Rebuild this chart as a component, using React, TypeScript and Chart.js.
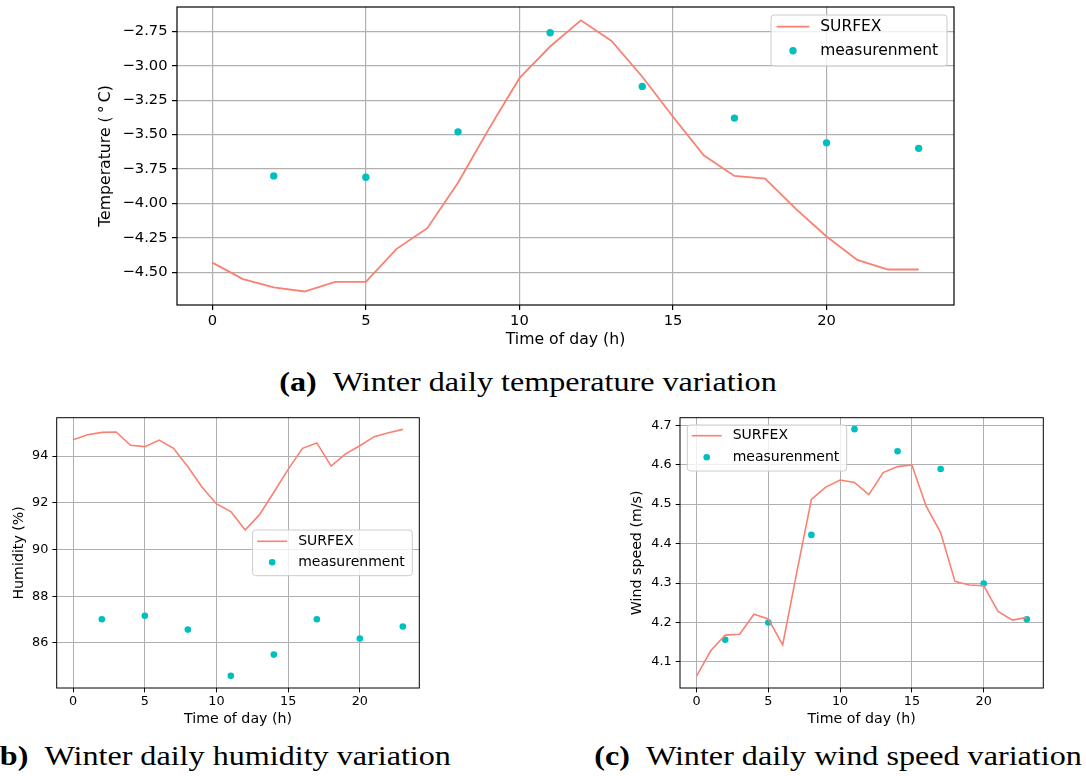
import React, { useEffect, useRef } from 'react';
import { Chart, registerables } from 'chart.js';

Chart.register(...registerables);

// ---------------- data ----------------
const hours = [0, 1, 2, 3, 4, 5, 6, 7, 8, 9, 10, 11, 12, 13, 14, 15, 16, 17, 18, 19, 20, 21, 22, 23];
const measHours = [2, 5, 8, 11, 14, 17, 20, 23];

const tempSurfex = [-4.43, -4.55, -4.61, -4.64, -4.57, -4.57, -4.33, -4.18, -3.85, -3.46, -3.09, -2.86, -2.67, -2.82, -3.08, -3.37, -3.65, -3.80, -3.82, -4.04, -4.24, -4.41, -4.48, -4.48];
const tempMeas = [-3.80, -3.81, -3.48, -2.76, -3.15, -3.38, -3.56, -3.60];

const humSurfex = [94.70, 94.91, 95.01, 95.03, 94.46, 94.40, 94.68, 94.33, 93.54, 92.66, 91.95, 91.62, 90.83, 91.49, 92.45, 93.43, 94.33, 94.56, 93.57, 94.09, 94.44, 94.83, 95.00, 95.14];
const humMeas = [87.01, 87.16, 86.57, 84.59, 85.50, 87.01, 86.19, 86.70];

const windSurfex = [4.064, 4.129, 4.168, 4.170, 4.221, 4.209, 4.143, 4.330, 4.512, 4.543, 4.561, 4.555, 4.524, 4.580, 4.595, 4.599, 4.494, 4.428, 4.304, 4.295, 4.293, 4.228, 4.206, 4.213];
const windMeas = [4.156, 4.200, 4.422, 4.690, 4.634, 4.589, 4.299, 4.208];

const xTicks = [0, 5, 10, 15, 20];
const tempTicks = [-4.5, -4.25, -4.0, -3.75, -3.5, -3.25, -3.0, -2.75];
const humTicks = [86, 88, 90, 92, 94];
const windTicks = [4.1, 4.2, 4.3, 4.4, 4.5, 4.6, 4.7];

const seriesLabels = ['SURFEX', 'measurenment'];

// ---------------- styling ----------------
const SALMON = '#fa8072';
const CYAN = '#00bfbf';
const FONT = '"DejaVu Sans", sans-serif';
const SERIF = '"Liberation Serif", serif';

const frameLegendPlugin = {
  id: 'frameLegend',
  afterDraw(chart: any, _args: any, opts: any) {
    const { ctx, chartArea: a } = chart;
    ctx.save();
    ctx.strokeStyle = '#000';
    ctx.lineWidth = opts.frameWidth;
    ctx.strokeRect(a.left, a.top, a.right - a.left, a.bottom - a.top);

    const L = opts.legend;
    const bx = L.anchor === 'right' ? a.right - L.inset - L.width : a.left + L.inset;
    const by = a.top + L.top;
    ctx.beginPath();
    ctx.roundRect(bx, by, L.width, L.height, 3);
    ctx.fillStyle = 'rgba(255,255,255,0.8)';
    ctx.fill();
    ctx.strokeStyle = '#cccccc';
    ctx.lineWidth = 1;
    ctx.stroke();

    const ds = chart.data.datasets;
    ctx.strokeStyle = ds[0].borderColor;
    ctx.lineWidth = ds[0].borderWidth;
    ctx.beginPath();
    ctx.moveTo(bx + L.lineX0, by + L.row1);
    ctx.lineTo(bx + L.lineX1, by + L.row1);
    ctx.stroke();

    ctx.fillStyle = ds[1].backgroundColor;
    ctx.beginPath();
    ctx.arc(bx + (L.lineX0 + L.lineX1) / 2, by + L.row2, ds[1].pointRadius, 0, Math.PI * 2);
    ctx.fill();

    ctx.fillStyle = '#000';
    ctx.font = `${L.fontSize}px ${FONT}`;
    ctx.textBaseline = 'middle';
    ctx.textAlign = 'left';
    ctx.fillText(ds[0].label, bx + L.textX, by + L.row1);
    ctx.fillText(ds[1].label, bx + L.textX, by + L.row2);
    ctx.restore();
  },
};

function zeroPad(s: any) {
  s.paddingLeft = 0;
  s.paddingRight = 0;
  s.paddingTop = 0;
  s.paddingBottom = 0;
}

function buildConfig(p: any) {
  return {
    type: 'scatter',
    data: {
      datasets: [
        {
          label: seriesLabels[0],
          data: hours.map((h, i) => ({ x: h, y: p.line[i] })),
          showLine: true,
          borderColor: SALMON,
          backgroundColor: SALMON,
          borderWidth: p.lineWidth,
          pointRadius: 0,
          pointHoverRadius: 0,
        },
        {
          label: seriesLabels[1],
          data: measHours.map((h, i) => ({ x: h, y: p.meas[i] })),
          showLine: false,
          backgroundColor: CYAN,
          borderColor: CYAN,
          borderWidth: 0,
          pointRadius: p.dot,
          pointHoverRadius: p.dot,
        },
      ],
    },
    options: {
      responsive: false,
      animation: false,
      events: [],
      layout: { padding: { top: p.padTop, right: p.padRight, left: 0, bottom: 0 } },
      plugins: {
        legend: { display: false },
        tooltip: { enabled: false },
        frameLegend: { frameWidth: p.frame, legend: p.legend },
      },
      scales: {
        x: {
          type: 'linear',
          min: -1.15,
          max: 24.15,
          afterBuildTicks: (s: any) => {
            s.ticks = xTicks.map((v) => ({ value: v }));
          },
          afterFit: (s: any) => {
            s.height = p.xH;
            zeroPad(s);
          },
          border: { display: false },
          grid: { color: '#b0b0b0', lineWidth: p.grid, tickColor: '#000', tickLength: p.tl, tickWidth: p.grid },
          ticks: {
            autoSkip: false,
            maxRotation: 0,
            color: '#000',
            padding: p.xPad,
            font: { family: FONT, size: p.tick },
            callback: (v: any) => String(v),
          },
          title: {
            display: true,
            text: 'Time of day (h)',
            color: '#000',
            font: { family: FONT, size: p.title },
            padding: { top: 0, bottom: p.xTitlePad },
          },
        },
        y: {
          type: 'linear',
          min: p.yMin,
          max: p.yMax,
          afterBuildTicks: (s: any) => {
            s.ticks = p.yTicks.map((v: number) => ({ value: v }));
          },
          afterFit: (s: any) => {
            s.width = p.yW;
            zeroPad(s);
          },
          border: { display: false },
          grid: { color: '#b0b0b0', lineWidth: p.grid, tickColor: '#000', tickLength: p.tl, tickWidth: p.grid },
          ticks: {
            autoSkip: false,
            color: '#000',
            padding: p.yPad,
            font: { family: FONT, size: p.tick },
            callback: p.fmt,
          },
          title: {
            display: true,
            text: p.yTitle,
            color: '#000',
            font: { family: FONT, size: p.title },
            padding: { top: p.yTitlePad, bottom: 0 },
          },
        },
      },
    },
    plugins: [frameLegendPlugin],
  };
}

function ChartCanvas(props: any) {
  const ref = useRef<HTMLCanvasElement | null>(null);
  const { left, top, width, height, params } = props;
  useEffect(() => {
    const chart = new Chart(ref.current as any, buildConfig(params) as any);
    return () => chart.destroy();
  }, []);
  return (
    <canvas
      ref={ref}
      width={width}
      height={height}
      style={{ position: 'absolute', left, top, width, height }}
    />
  );
}

const minus = (s: string) => s.replace('-', '\u2212');

const topParams = {
  line: tempSurfex,
  meas: tempMeas,
  yMin: -4.738,
  yMax: -2.573,
  yTicks: tempTicks,
  fmt: (v: any) => minus(Number(v).toFixed(2)),
  yTitle: 'Temperature (\u2009\u00B0\u2009C)',
  padTop: 7,
  padRight: 16,
  yW: 87,
  xH: 50,
  tick: 14.7,
  title: 15.7,
  tl: 5,
  xPad: 2,
  yPad: 4.5,
  yTitlePad: 6.6,
  xTitlePad: 5.6,
  grid: 1.2,
  frame: 1.2,
  lineWidth: 1.8,
  dot: 3.7,
  legend: { anchor: 'right', inset: 7, top: 8, width: 176, height: 51, row1: 11.7, row2: 35.7, lineX0: 5.6, lineX1: 38.4, textX: 49.2, fontSize: 15.5 },
};

const humParams = {
  line: humSurfex,
  meas: humMeas,
  yMin: 84.07,
  yMax: 95.64,
  yTicks: humTicks,
  fmt: (v: any) => String(Math.round(Number(v))),
  yTitle: 'Humidity (%)',
  padTop: 17.7,
  padRight: 10.7,
  yW: 56.7,
  xH: 52,
  tick: 12.8,
  title: 14.2,
  tl: 4.3,
  xPad: 2,
  yPad: 4.1,
  yTitlePad: 10.7,
  xTitlePad: 12.5,
  grid: 1,
  frame: 1,
  lineWidth: 1.6,
  dot: 3.3,
  legend: { anchor: 'right', inset: 7, top: 112.3, width: 159.7, height: 45.7, row1: 11.3, row2: 32.3, lineX0: 4.6, lineX1: 34.6, textX: 45.6, fontSize: 14 },
};

const windParams = {
  line: windSurfex,
  meas: windMeas,
  yMin: 4.034,
  yMax: 4.719,
  yTicks: windTicks,
  fmt: (v: any) => Number(v).toFixed(1),
  yTitle: 'Wind speed (m/s)',
  padTop: 17.7,
  padRight: 42.7,
  yW: 80,
  xH: 52,
  tick: 12.8,
  title: 14.2,
  tl: 4.3,
  xPad: 2,
  yPad: 4.1,
  yTitlePad: 29,
  xTitlePad: 12.5,
  grid: 1,
  frame: 1,
  lineWidth: 1.6,
  dot: 3.3,
  legend: { anchor: 'left', inset: 7.3, top: 7.3, width: 159.4, height: 46, row1: 10.7, row2: 32.3, lineX0: 4.4, lineX1: 34.4, textX: 45.4, fontSize: 14 },
};

function Caption(props: any) {
  const { cx, top, tag, text } = props;
  return (
    <div
      style={{
        position: 'absolute',
        left: cx,
        top,
        transform: 'translateX(-50%) scaleX(1.19)',
        transformOrigin: 'center',
        fontFamily: SERIF,
        fontSize: 27,
        lineHeight: '32px',
        whiteSpace: 'nowrap',
        color: '#000',
      }}
    >
      <b>{tag}</b>
      {'\u2002'}
      {text}
    </div>
  );
}

export default function App() {
  return (
    <div
      style={{
        position: 'absolute',
        left: 0,
        top: 0,
        width: 1086,
        height: 776,
        overflow: 'hidden',
        background: '#fff',
      }}
    >
      <ChartCanvas left={90} top={0} width={880} height={355} params={topParams} />
      <ChartCanvas left={0} top={400} width={430} height={340} params={humParams} />
      <ChartCanvas left={600} top={400} width={486} height={340} params={windParams} />
      <Caption cx={527.5} top={365.6} tag="(a)" text="Winter daily temperature variation" />
      <Caption cx={220} top={740} tag="(b)" text="Winter daily humidity variation" />
      <Caption cx={838.3} top={740} tag="(c)" text="Winter daily wind speed variation" />
    </div>
  );
}
